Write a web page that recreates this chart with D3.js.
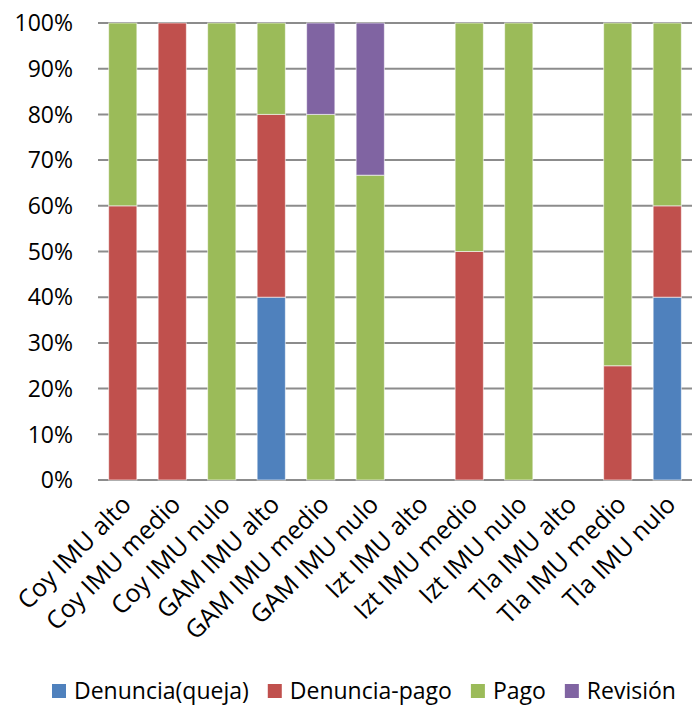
<!DOCTYPE html>
<html>
<head>
<meta charset="utf-8">
<script src="https://cdn.jsdelivr.net/npm/d3@7"></script>
<style>
  body { margin: 0; background: #fff; }
  text { font-family: "Open Sans", sans-serif; fill: #000; }
</style>
</head>
<body>
<div id="chart"></div>
<script>
// percentage stacked bars, one per municipality / IMU level
const categories = ["Coy IMU alto", "Coy IMU medio", "Coy IMU nulo", "GAM IMU alto", "GAM IMU medio",
  "GAM IMU nulo", "Izt IMU alto", "Izt IMU medio", "Izt IMU nulo", "Tla IMU alto", "Tla IMU medio", "Tla IMU nulo"];
const series = ["Denuncia(queja)", "Denuncia-pago", "Pago", "Revisión"];
const queja    = [0, 0, 0, 40, 0, 0, 0, 0, 0, 0, 0, 40];
const denPago  = [60, 100, 0, 40, 0, 0, 0, 50, 0, 0, 25, 20];
const pago     = [40, 0, 100, 20, 80, 66.7, 0, 50, 100, 0, 75, 40];
const revision = [0, 0, 0, 0, 20, 33.3, 0, 0, 0, 0, 0, 0];
const yTicks = [0, 10, 20, 30, 40, 50, 60, 70, 80, 90, 100];
const colors = ["#4F81BD", "#C0504D", "#9BBB59", "#8064A2"];

let width = 695, height = 706,
    margin = ({ top: 23, right: 3, bottom: 226, left: 98 });

const svg = d3.select("#chart").append("svg")
    .attr("width", width).attr("height", height);

const data = categories.map((c, i) => ({
    cat: c, "Denuncia(queja)": queja[i], "Denuncia-pago": denPago[i], "Pago": pago[i], "Revisión": revision[i]
}));
const stacked = d3.stack().keys(series)(data);

let x = d3.scaleBand().domain(categories)
    .range([margin.left, width - margin.right]).paddingInner(0.43).paddingOuter(0.215);
let y = d3.scaleLinear().domain([0, 100]).range([height - margin.bottom, margin.top]);
const color = d3.scaleOrdinal(series, colors);

// gridlines
svg.append("g").selectAll("line").data(yTicks).join("line")
    .attr("x1", margin.left).attr("x2", width - margin.right)
    .attr("y1", d => y(d)).attr("y2", d => y(d))
    .attr("stroke", "#8c8c8c").attr("stroke-width", 2);

svg.append("g").selectAll("text").data(yTicks).join("text")
    .attr("x", 73).attr("y", d => y(d)).attr("dy", "0.36em")
    .attr("text-anchor", "end").attr("font-size", 23)
    .text(d => d + "%");

svg.append("g").selectAll("g").data(stacked).join("g")
    .attr("fill", d => color(d.key))
    .selectAll("rect").data(d => d).join("rect")
    .attr("x", d => x(d.data.cat))
    .attr("width", x.bandwidth())
    .attr("y", d => y(d[1]))
    .attr("height", d => y(d[0]) - y(d[1]))
    .attr("stroke", "#fff").attr("stroke-opacity", 0.6).attr("stroke-width", 1);

// x labels
svg.append("g").selectAll("text").data(categories).join("text")
    .attr("transform", d => `translate(${x(d) + x.bandwidth() / 2 + 10},${y(0) + 26}) rotate(-45)`)
    .attr("text-anchor", "end").attr("font-size", 25)
    .text(d => d);

// legend
const legend = svg.append("g").attr("transform", "translate(0,691)");
let lx = 52;
series.forEach((s, i) => {
    legend.append("rect").attr("x", lx).attr("y", -7).attr("width", 14).attr("height", 14)
        .attr("fill", colors[i]);
    const t = legend.append("text").attr("x", lx + 22).attr("dy", "0.36em")
        .attr("font-size", 23).text(s);
    lx += 22 + t.node().getComputedTextLength() + 19;
});
</script>
</body>
</html>
